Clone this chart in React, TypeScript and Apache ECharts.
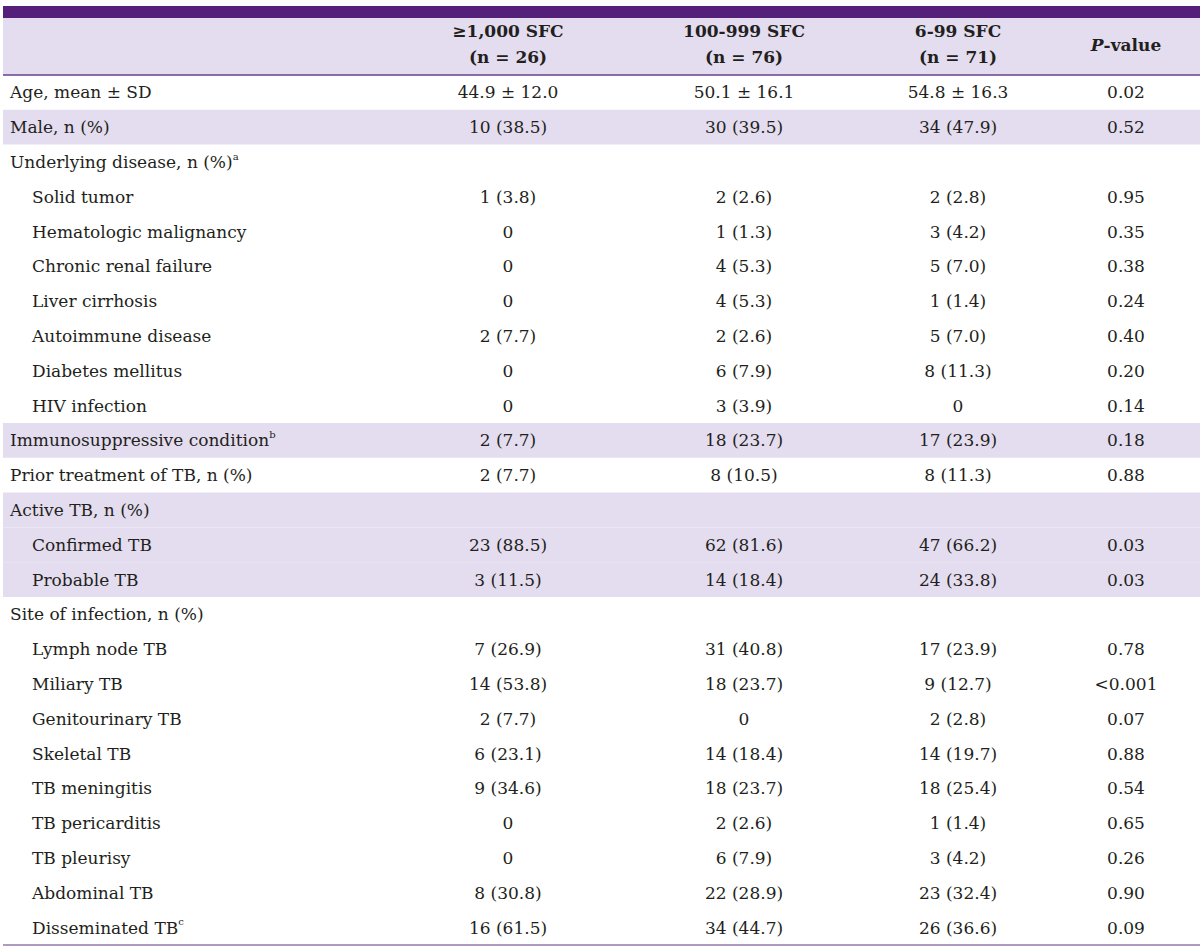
import React, { useEffect, useRef } from "react";
import * as echarts from "echarts";

const headerLine1 = ["≥1,000 SFC", "100-999 SFC", "6-99 SFC"];
const headerLine2 = ["(n = 26)", "(n = 76)", "(n = 71)"];
const pHeader = "P";

const rowLabels = [
  "Age, mean ± SD",
  "Male, n (%)",
  "Underlying disease, n (%)",
  "Solid tumor",
  "Hematologic malignancy",
  "Chronic renal failure",
  "Liver cirrhosis",
  "Autoimmune disease",
  "Diabetes mellitus",
  "HIV infection",
  "Immunosuppressive condition",
  "Prior treatment of TB, n (%)",
  "Active TB, n (%)",
  "Confirmed TB",
  "Probable TB",
  "Site of infection, n (%)",
  "Lymph node TB",
  "Miliary TB",
  "Genitourinary TB",
  "Skeletal TB",
  "TB meningitis",
  "TB pericarditis",
  "TB pleurisy",
  "Abdominal TB",
  "Disseminated TB",
];
const rowSup = ["", "", "a", "", "", "", "", "", "", "", "b", "", "", "", "", "", "", "", "", "", "", "", "", "", "c"];
const indentRows = [3, 4, 5, 6, 7, 8, 9, 13, 14, 16, 17, 18, 19, 20, 21, 22, 23, 24];
const shadedRows = [1, 10, 12, 13, 14];

const colHigh = ["44.9 ± 12.0", "10 (38.5)", "", "1 (3.8)", "0", "0", "0", "2 (7.7)", "0", "0", "2 (7.7)", "2 (7.7)", "", "23 (88.5)", "3 (11.5)", "", "7 (26.9)", "14 (53.8)", "2 (7.7)", "6 (23.1)", "9 (34.6)", "0", "0", "8 (30.8)", "16 (61.5)"];
const colMid = ["50.1 ± 16.1", "30 (39.5)", "", "2 (2.6)", "1 (1.3)", "4 (5.3)", "4 (5.3)", "2 (2.6)", "6 (7.9)", "3 (3.9)", "18 (23.7)", "8 (10.5)", "", "62 (81.6)", "14 (18.4)", "", "31 (40.8)", "18 (23.7)", "0", "14 (18.4)", "18 (23.7)", "2 (2.6)", "6 (7.9)", "22 (28.9)", "34 (44.7)"];
const colLow = ["54.8 ± 16.3", "34 (47.9)", "", "2 (2.8)", "3 (4.2)", "5 (7.0)", "1 (1.4)", "5 (7.0)", "8 (11.3)", "0", "17 (23.9)", "8 (11.3)", "", "47 (66.2)", "24 (33.8)", "", "17 (23.9)", "9 (12.7)", "2 (2.8)", "14 (19.7)", "18 (25.4)", "1 (1.4)", "3 (4.2)", "23 (32.4)", "26 (36.6)"];
const pValues = ["0.02", "0.52", "", "0.95", "0.35", "0.38", "0.24", "0.40", "0.20", "0.14", "0.18", "0.88", "", "0.03", "0.03", "", "0.78", "<0.001", "0.07", "0.88", "0.54", "0.65", "0.26", "0.90", "0.09"];

const FONT = "'DejaVu Serif', serif";
const TEXT = "#231f20";
const PURPLE = "#55207a";
const LAVENDER = "#e3ddef";

export default function App() {
  const ref = useRef<HTMLDivElement>(null);
  useEffect(() => {
    document.body.style.margin = "0";
    const chart = echarts.init(ref.current!, null, { renderer: "svg" });
    const left = 3;
    const right = 1200;
    const headTop = 6;
    const headBar = 18;
    const headBottom = 75;
    const rowH = 34.8;
    const colX = [508, 744, 958, 1126];
    const fs = 17;
    const els: any[] = [];
    els.push({ type: "rect", shape: { x: left, y: headTop, width: right - left, height: headBar - headTop }, style: { fill: PURPLE } });
    els.push({ type: "rect", shape: { x: left, y: headBar, width: right - left, height: headBottom - headBar }, style: { fill: LAVENDER } });
    shadedRows.forEach((r) => {
      els.push({ type: "rect", shape: { x: left, y: headBottom + r * rowH, width: right - left, height: rowH }, style: { fill: LAVENDER } });
    });
    els.push({ type: "line", shape: { x1: left, y1: headBottom, x2: right, y2: headBottom }, style: { stroke: "#6a3f8e", lineWidth: 1.5 } });
    const bottomY = headBottom + rowLabels.length * rowH;
    els.push({ type: "line", shape: { x1: left, y1: bottomY, x2: right, y2: bottomY }, style: { stroke: "#957aab", lineWidth: 1.5 } });

    headerLine1.forEach((t, i) => {
      els.push({ type: "text", x: colX[i], y: 31, style: { text: t, font: `bold ${fs}px ${FONT}`, fill: TEXT, align: "center", verticalAlign: "middle" } });
      els.push({ type: "text", x: colX[i], y: 57, style: { text: headerLine2[i], font: `bold ${fs}px ${FONT}`, fill: TEXT, align: "center", verticalAlign: "middle" } });
    });
    els.push({
      type: "text", x: colX[3], y: 45,
      style: {
        text: `{i|${pHeader}}{b|-value}`, align: "center", verticalAlign: "middle", fill: TEXT,
        rich: {
          i: { fontFamily: FONT, fontSize: fs, fontWeight: "bold", fontStyle: "italic", fill: TEXT },
          b: { fontFamily: FONT, fontSize: fs, fontWeight: "bold", fill: TEXT },
        },
      },
    });

    rowLabels.forEach((lab, r) => {
      const cy = headBottom + (r + 0.5) * rowH;
      const x = indentRows.includes(r) ? 32 : 10;
      const sup = rowSup[r];
      els.push({
        type: "text", x, y: cy,
        style: {
          text: sup ? `{m|${lab}}{s|${sup}}` : `{m|${lab}}`,
          align: "left", verticalAlign: "middle", fill: TEXT,
          rich: {
            m: { fontFamily: FONT, fontSize: fs, fill: TEXT, lineHeight: 22 },
            s: { fontFamily: FONT, fontSize: 10, fill: TEXT, lineHeight: 22, verticalAlign: "top" },
          },
        },
      });
      [colHigh[r], colMid[r], colLow[r], pValues[r]].forEach((v, c) => {
        if (!v) return;
        els.push({ type: "text", x: colX[c], y: cy, style: { text: v, font: `${fs}px ${FONT}`, fill: TEXT, align: "center", verticalAlign: "middle" } });
      });
    });

    chart.setOption({ animation: false, backgroundColor: "#ffffff", graphic: { elements: els } });
    return () => chart.dispose();
  }, []);
  return <div ref={ref} style={{ width: 1200, height: 948 }} />;
}
